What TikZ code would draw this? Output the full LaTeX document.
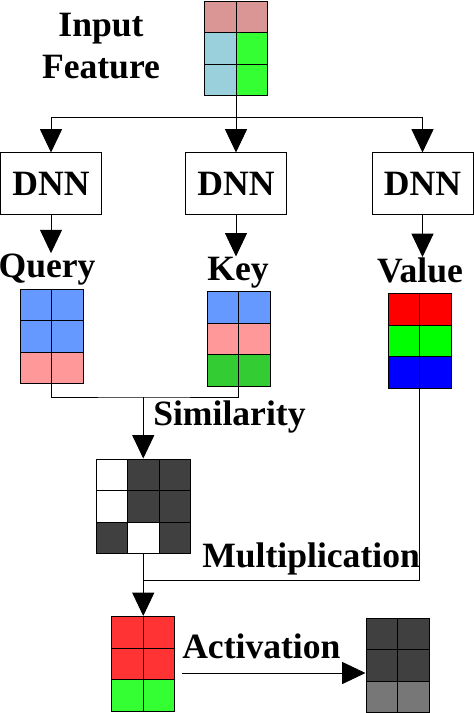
\documentclass[tikz,border=0pt]{standalone}
\usepackage{fontspec}
\setmainfont{Liberation Serif}
\usepackage{tikz}
\usetikzlibrary{calc,arrows.meta}
\definecolor{inrose}{RGB}{218,150,148}
\definecolor{incyan}{RGB}{153,208,220}
\definecolor{ltgreen}{RGB}{51,255,51}
\definecolor{qblue}{RGB}{102,153,255}
\definecolor{qpink}{RGB}{255,153,153}
\definecolor{kgreen}{RGB}{51,204,51}
\definecolor{vred}{RGB}{255,0,0}
\definecolor{vgreen}{RGB}{0,255,0}
\definecolor{vblue}{RGB}{0,0,255}
\definecolor{dkgray}{RGB}{64,64,64}
\definecolor{mdgray}{RGB}{119,119,119}
\definecolor{rred}{RGB}{255,51,51}
\tikzset{
  lbl/.style={font=\fontsize{26.7}{31.5}\selectfont\bfseries, inner sep=0pt},
  dnn/.style={draw, line width=0.75pt, minimum width=75.75pt, minimum height=45.75pt, inner sep=0pt, lbl},
  cell/.style={draw, line width=0.75pt},
  mat/.style={draw, line width=0.75pt, minimum width=47.25pt, minimum height=70.875pt, inner sep=0pt},
  arr/.style={line width=0.75pt, -{Triangle[width=16.5pt,length=17.5pt]}},
}

\begin{document}
\begin{tikzpicture}[x=0.75pt,y=0.75pt,yscale=-1,xscale=1]
                  \useasboundingbox (0,0) rectangle (474,713);

                  % Text Node
                  \node[lbl, anchor=base] (inlbl) at (101,37) {Input};
                  % Text Node
                  \node[lbl, anchor=base] (featlbl) at (101,79) {Feature};

                  %Shape: Grid input
                  \draw[cell, fill=inrose] (204.5,1.5) rectangle ++(31.5,31.5);
                  \draw[cell, fill=inrose] (236,1.5) rectangle ++(31.5,31.5);
                  \draw[cell, fill=incyan] (204.5,33) rectangle ++(31.5,31.5);
                  \draw[cell, fill=ltgreen] (236,33) rectangle ++(31.5,31.5);
                  \draw[cell, fill=incyan] (204.5,64.5) rectangle ++(31.5,31.5);
                  \draw[cell, fill=ltgreen] (236,64.5) rectangle ++(31.5,31.5);
                  \node[mat] (inp) at (236,48.75) {};

                  %Shape: Rectangle
                  \node[dnn] (dnnq) at (51,183.5) {DNN};
                  \node[dnn] (dnnk) at (236,183.5) {DNN};
                  \node[dnn] (dnnv) at (422.5,183.5) {DNN};

                  %Straight Lines
                  \coordinate (br) at (236,118);
                  \draw[line width=0.75pt] (inp.south) -- (br);
                  \draw[arr] (br) -| (dnnq.north);
                  \draw[arr] (br) -- (dnnk.north);
                  \draw[arr] (br) -| (dnnv.north);

                  % Text Node
                  \node[lbl, anchor=base] (qlbl) at (47,277) {Query};
                  % Text Node
                  \node[lbl, anchor=base] (klbl) at (238,280) {Key};
                  % Text Node
                  \node[lbl, anchor=base] (vlbl) at (420,282) {Value};

                  \draw[arr] (dnnq.south) -- (dnnq.south |- qlbl.north);
                  \draw[arr] (dnnk.south) -- (dnnk.south |- klbl.north);
                  \draw[arr] (dnnv.south) -- (dnnv.south |- vlbl.north);

                  %Shape: Grid query
                  \draw[cell, fill=qblue] (20,289) rectangle ++(31.5,31.5);
                  \draw[cell, fill=qblue] (51.5,289) rectangle ++(31.5,31.5);
                  \draw[cell, fill=qblue] (20,320.5) rectangle ++(31.5,31.5);
                  \draw[cell, fill=qblue] (51.5,320.5) rectangle ++(31.5,31.5);
                  \draw[cell, fill=qpink] (20,352) rectangle ++(31.5,31.5);
                  \draw[cell, fill=qpink] (51.5,352) rectangle ++(31.5,31.5);
                  \node[mat] (qry) at (51.5,336.25) {};

                  %Shape: Grid key
                  \draw[cell, fill=qblue] (207,291.5) rectangle ++(31.5,31.5);
                  \draw[cell, fill=qblue] (238.5,291.5) rectangle ++(31.5,31.5);
                  \draw[cell, fill=qpink] (207,323) rectangle ++(31.5,31.5);
                  \draw[cell, fill=qpink] (238.5,323) rectangle ++(31.5,31.5);
                  \draw[cell, fill=kgreen] (207,354.5) rectangle ++(31.5,31.5);
                  \draw[cell, fill=kgreen] (238.5,354.5) rectangle ++(31.5,31.5);
                  \node[mat] (key) at (238.5,338.75) {};

                  %Shape: Grid value
                  \draw[cell, fill=vred] (388,293.5) rectangle ++(31.5,31.5);
                  \draw[cell, fill=vred] (419.5,293.5) rectangle ++(31.5,31.5);
                  \draw[cell, fill=vgreen] (388,325) rectangle ++(31.5,31.5);
                  \draw[cell, fill=vgreen] (419.5,325) rectangle ++(31.5,31.5);
                  \draw[cell, fill=vblue] (388,356.5) rectangle ++(31.5,31.5);
                  \draw[cell, fill=vblue] (419.5,356.5) rectangle ++(31.5,31.5);
                  \node[mat] (val) at (419.5,340.75) {};

                  %Shape: Grid similarity
                  \draw[cell, fill=white] (96,459) rectangle ++(31.5,31.5);
                  \draw[cell, fill=dkgray] (127.5,459) rectangle ++(31.5,31.5);
                  \draw[cell, fill=dkgray] (159,459) rectangle ++(31.5,31.5);
                  \draw[cell, fill=white] (96,490.5) rectangle ++(31.5,31.5);
                  \draw[cell, fill=dkgray] (127.5,490.5) rectangle ++(31.5,31.5);
                  \draw[cell, fill=dkgray] (159,490.5) rectangle ++(31.5,31.5);
                  \draw[cell, fill=dkgray] (96,522) rectangle ++(31.5,31.5);
                  \draw[cell, fill=white] (127.5,522) rectangle ++(31.5,31.5);
                  \draw[cell, fill=dkgray] (159,522) rectangle ++(31.5,31.5);
                  \node[mat, minimum width=70.875pt] (sim) at (143.25,506.25) {};

                  %Straight Lines similarity
                  \coordinate (sj) at (143.25,397);
                  \draw[line width=0.75pt] (qry.south) |- (sj) -| (key.south);
                  \draw[arr] (sj) -- (sim.north);
                  % Text Node
                  \node[lbl, anchor=base west] (simlbl) at (153,425) {Similarity};

                  %Shape: Grid result
                  \draw[cell, fill=rred] (111.5,616.5) rectangle ++(31.5,31.5);
                  \draw[cell, fill=rred] (143,616.5) rectangle ++(31.5,31.5);
                  \draw[cell, fill=rred] (111.5,648) rectangle ++(31.5,31.5);
                  \draw[cell, fill=rred] (143,648) rectangle ++(31.5,31.5);
                  \draw[cell, fill=ltgreen] (111.5,679.5) rectangle ++(31.5,31.5);
                  \draw[cell, fill=ltgreen] (143,679.5) rectangle ++(31.5,31.5);
                  \node[mat] (res) at (143.25,663.75) {};

                  %Straight Lines multiplication
                  \coordinate (mj) at (143.25,580);
                  \draw[line width=0.75pt] (val.south) |- (mj);
                  \draw[line width=0.75pt] (sim.south) -- (mj);
                  \draw[arr] (mj) -- (res.north);
                  % Text Node
                  \node[lbl, anchor=base west] (mullbl) at (202,567) {Multiplication};

                  %Shape: Grid output
                  \draw[cell, fill=dkgray] (366,618) rectangle ++(31.5,31.5);
                  \draw[cell, fill=dkgray] (397.5,618) rectangle ++(31.5,31.5);
                  \draw[cell, fill=dkgray] (366,649.5) rectangle ++(31.5,31.5);
                  \draw[cell, fill=dkgray] (397.5,649.5) rectangle ++(31.5,31.5);
                  \draw[cell, fill=mdgray] (366,681) rectangle ++(31.5,31.5);
                  \draw[cell, fill=mdgray] (397.5,681) rectangle ++(31.5,31.5);
                  \node[mat] (out) at (397.5,665.25) {};

                  %Straight Lines activation
                  \coordinate (actst) at ($(res.east)+(7,9.25)$);
                  \draw[arr] (actst) -- (actst -| out.west);
                  % Text Node
                  \node[lbl, anchor=base west] (actlbl) at (182,658) {Activation};

              \end{tikzpicture}
\end{document}
